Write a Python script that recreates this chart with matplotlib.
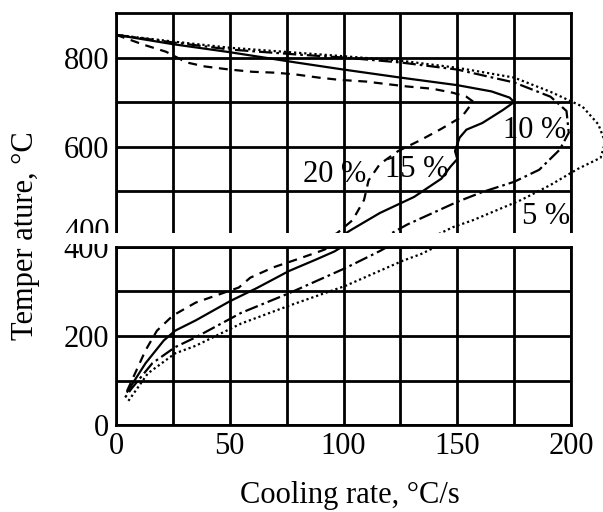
"""Temperature vs. cooling rate for four deformation levels (split axis)."""
import matplotlib.pyplot as plt
from matplotlib.patches import Rectangle

plt.rcParams["font.family"] = ["Liberation Serif", "DejaVu Serif"]

# cooling rate (°C/s) and temperature (°C) along each curve, top branch first
x_5 = [0, 25, 50, 79, 100, 125, 150, 175, 191, 205, 212, 215, 213, 203, 191, 178,
       157, 148, 134, 126, 101, 76, 55, 35, 26, 14, 5]
t_5 = [851, 836, 822, 811, 803, 793, 777, 755, 723, 690, 650, 610, 575, 550, 514, 480,
       435, 419, 384, 369, 313, 268, 228, 178, 161, 116, 51]

x_10 = [0, 25, 50, 79, 100, 125, 150, 175, 191, 198, 199, 195, 186, 175, 161, 150,
        128, 116, 101, 76, 55, 35, 26, 16, 7, 4]
t_10 = [851, 834, 818, 807, 800, 789, 773, 744, 712, 680, 631, 593, 548, 521, 498, 476,
        425, 391, 353, 296, 252, 197, 175, 139, 83, 62]

x_15 = [0, 25, 50, 79, 100, 125, 150, 165, 173, 175, 170, 161, 154, 151, 150, 149,
        150, 147, 143, 131, 116, 104, 96, 88, 76, 62, 50, 35, 26, 21, 13, 5]
t_15 = [851, 830, 812, 789, 773, 755, 738, 724, 710, 700, 682, 653, 638, 620, 605, 590,
        572, 555, 528, 487, 451, 415, 390, 372, 346, 308, 278, 235, 212, 190, 139, 75]

x_20 = [0, 5, 12, 22, 31, 39, 50, 60, 70, 79, 89, 98, 110, 118, 128, 139, 148, 154,
        157, 152, 143, 134, 124, 116, 111, 109, 104, 97, 90, 80, 69, 59, 54, 35, 25,
        18, 13, 4]
t_20 = [851, 842, 829, 813, 789, 780, 773, 768, 766, 762, 755, 750, 746, 741, 735, 730,
        721, 712, 701, 667, 640, 615, 590, 561, 524, 480, 435, 405, 391, 373, 354, 331,
        309, 275, 246, 212, 168, 67]

series = [
    (x_5, t_5, (0, (1.0, 1.3))),
    (x_10, t_10, (0, (6, 1.8, 1.2, 1.8))),
    (x_15, t_15, "-"),
    (x_20, t_20, (0, (4, 3))),
]

labels = ["5 %", "10 %", "15 %", "20 %"]
label_x = [189, 184, 132, 96]
label_t = [444, 636, 548, 537]

x_major = [0, 50, 100, 150, 200]
x_minor = [25, 75, 125, 175]

FS = 22

fig = plt.figure(figsize=(6.03, 5.12), dpi=100)
ax_top = fig.add_axes([0.1924, 0.5449, 0.7546, 0.4297])
ax_bot = fig.add_axes([0.1924, 0.1699, 0.7546, 0.3477])

for ax in (ax_top, ax_bot):
    ax.set_xlim(0, 200)
    ax.set_xticks(x_major)
    ax.set_xticks(x_minor, minor=True)
    ax.grid(True, which="both", color="black", lw=2.0)
    ax.set_axisbelow(True)
    ax.tick_params(which="both", length=0, labelsize=FS, pad=5)
    for sp in ax.spines.values():
        sp.set_linewidth(2.0)
    for xs, ts, ls in series:
        line, = ax.plot(xs, ts, color="black", lw=1.6, ls=ls)
        # let the nose of the 5 % curve run past the right frame
        clip = Rectangle((0, 0), 1.2, 1, transform=ax.transAxes)
        line.set_clip_path(clip)

ax_top.set_ylim(406, 900)
ax_top.set_yticks([600, 800])
ax_top.set_yticks([500, 700], minor=True)
ax_top.tick_params(labelbottom=False)
ax_top.spines["bottom"].set_visible(False)

ax_bot.set_ylim(0, 400)
ax_bot.set_yticks([0, 200, 400])
ax_bot.set_yticks([100, 300], minor=True)

for txt, lx, lt in zip(labels, label_x, label_t):
    ax_top.text(lx, lt, txt, fontsize=FS, ha="center", va="center")

# "400" of the upper scale, cut off by the seam between the two halves
fig.text(0.1824, 1 - 233 / 512, "400", fontsize=FS, ha="right", va="center")
fig.add_artist(Rectangle((50 / 603, 1 - 244 / 512), 1, 11 / 512, transform=fig.transFigure,
                         facecolor="white", edgecolor="none", zorder=10))

fig.text(0.042, 0.54, "Temper ature, °C", rotation=90, fontsize=FS,
         ha="center", va="center")
fig.text(0.58, 0.033, "Cooling rate, °C/s", fontsize=FS, ha="center", va="center")

fig.savefig("out.png", dpi=100)
